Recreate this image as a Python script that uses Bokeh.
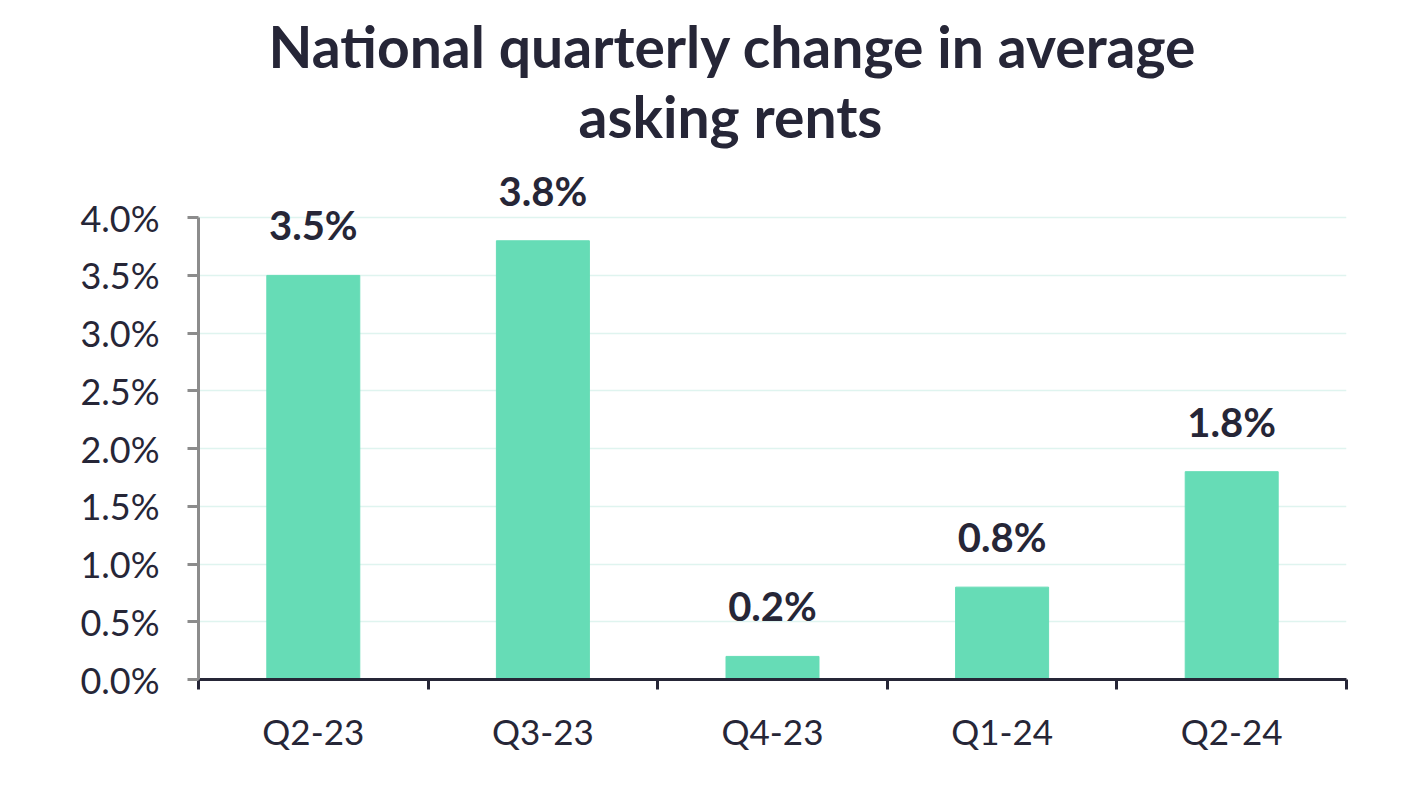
from bokeh.plotting import figure
from bokeh.models import (ColumnDataSource, FixedTicker, Title, Range1d,
                          CustomJSTickFormatter, LabelSet)
from bokeh.embed import file_html
from bokeh.resources import INLINE
from bokeh.core.properties import value

categories = ["Q2-23", "Q3-23", "Q4-23", "Q1-24", "Q2-24"]
values = [3.5, 3.8, 0.2, 0.8, 1.8]
labels = ["3.5%", "3.8%", "0.2%", "0.8%", "1.8%"]
y_ticks = [0.0, 0.5, 1.0, 1.5, 2.0, 2.5, 3.0, 3.5, 4.0]

DARK = "#262637"
FONT = "Lato"

xs = [i + 0.5 for i in range(len(categories))]
src = ColumnDataSource(dict(x=xs, top=values, label=labels))

p = figure(width=1408, height=794, output_backend="svg", toolbar_location=None,
           x_range=Range1d(0, len(categories)), y_range=Range1d(0, 4.4))
p.min_border_left = 198
p.min_border_right = 62
p.min_border_top = 171
p.min_border_bottom = 115
p.outline_line_color = None

p.vbar(x="x", top="top", width=0.405, source=src, color="#66dcb6")
p.add_layout(LabelSet(x="x", y="top", text="label", source=src, text_align="center",
                      text_baseline="bottom", y_offset=26, text_font=value(FONT),
                      text_font_style="bold", text_font_size="40px", text_color=DARK))

# titles
t2 = Title(text="asking rents", align="left", text_font=FONT, text_font_style="bold",
           text_font_size="57px", text_color=DARK, standoff=44, offset=380)
t1 = Title(text="National quarterly change in average", align="left", text_font=FONT,
           text_font_style="bold", text_font_size="57px", text_color=DARK, standoff=-44,
           offset=70)
p.add_layout(t2, "above")
p.add_layout(t1, "above")

# x axis: labels at centers, ticks at boundaries
xa = p.xaxis[0]
xa.ticker = FixedTicker(ticks=xs, minor_ticks=list(range(len(categories) + 1)))
xa.major_label_overrides = {x: c for x, c in zip(xs, categories)}
xa.major_tick_line_color = None
xa.minor_tick_in = 0
xa.minor_tick_out = 10
xa.minor_tick_line_color = DARK
xa.minor_tick_line_width = 3
xa.axis_line_color = DARK
xa.axis_line_width = 3
xa.major_label_text_font = FONT
xa.major_label_text_font_size = "35px"
xa.major_label_text_color = DARK
xa.major_label_standoff = 20

ya = p.yaxis[0]
ya.ticker = FixedTicker(ticks=y_ticks, minor_ticks=[])
ya.bounds = (y_ticks[0], y_ticks[-1])
ya.formatter = CustomJSTickFormatter(code="return tick.toFixed(1) + '%';")
ya.axis_line_color = "#8c8c8c"
ya.axis_line_width = 3
ya.major_tick_line_color = "#8c8c8c"
ya.major_tick_line_width = 3
ya.major_tick_in = 0
ya.major_tick_out = 11
ya.major_label_text_font = FONT
ya.major_label_text_font_size = "36px"
ya.major_label_text_color = DARK
ya.major_label_standoff = 28

p.xgrid.grid_line_color = None
p.ygrid.ticker = FixedTicker(ticks=y_ticks)
p.ygrid.grid_line_color = "#dff4ef"
p.ygrid.grid_line_width = 1.5

open("out.html", "w").write(file_html(p, INLINE))
